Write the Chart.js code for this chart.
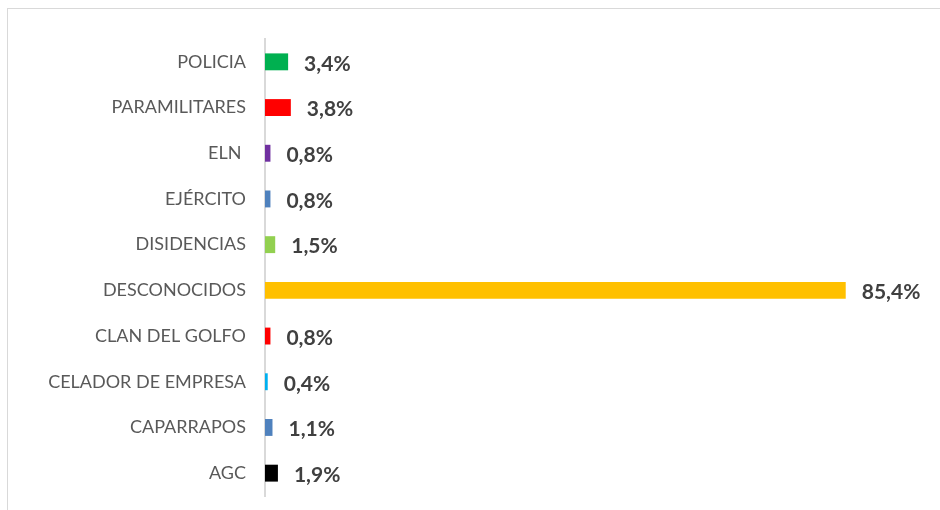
<!DOCTYPE html>
<html>
<head>
<meta charset="utf-8">
<script src="https://cdn.jsdelivr.net/npm/chart.js@4"></script>
<style>
	html, body { margin: 0; padding: 0; background: #fff; }
	#wrap { position: relative; width: 940px; height: 510px; }
	#frame { position: absolute; left: 7px; top: 8px; width: 940px; height: 510px; border-top: 1px solid #d9d9d9; border-left: 1px solid #d9d9d9; }
	canvas { position: absolute; left: 0; top: 0; }
</style>
</head>
<body>
<div id="wrap">
	<div id="frame"></div>
	<canvas id="actorsChart" width="940" height="510"></canvas>
</div>
<script>
const actors = ["POLICIA", "PARAMILITARES", "ELN ", "EJÉRCITO", "DISIDENCIAS", "DESCONOCIDOS", "CLAN DEL GOLFO", "CELADOR DE EMPRESA", "CAPARRAPOS", "AGC"];
const shares = [3.4, 3.8, 0.8, 0.8, 1.5, 85.4, 0.8, 0.4, 1.1, 1.9];
const barColors = ["#00B050", "#FF0000", "#7030A0", "#4F81BD", "#92D050", "#FFC000", "#FF0000", "#00B0F0", "#4F81BD", "#000000"];

// value labels to the right of each bar, "3,4%" style
const valueLabels = {
	id: "valueLabels",
	afterDatasetsDraw(chart) {
		const ctx = chart.ctx;
		const meta = chart.getDatasetMeta(0);
		ctx.save();
		ctx.font = "bold 21px Lato";
		ctx.fillStyle = "#404040";
		ctx.textBaseline = "middle";
		meta.data.forEach((bar, i) => {
			const txt = shares[i].toFixed(1).replace(".", ",") + "%";
			ctx.fillText(txt, bar.x + 16, bar.y + 2);
		});
		ctx.restore();
	},
};

new Chart(document.getElementById("actorsChart"), {
	type: "bar",
	data: {
		labels: actors,
		datasets: [
			{
				data: shares,
				backgroundColor: barColors,
				borderWidth: 0,
				barPercentage: 0.74,
				categoryPercentage: 0.5,
			},
		],
	},
	options: {
		indexAxis: "y",
		responsive: false,
		animation: false,
		layout: {
			padding: { top: 39, bottom: 14, left: 0, right: 63 },
		},
		scales: {
			x: {
				display: false,
				min: 0,
				max: 90,
				afterFit(scale) {
					scale.height = 0;
				},
			},
			y: {
				afterFit(scale) {
					scale.width = 265;
					scale.paddingTop = 0;
					scale.paddingBottom = 0;
				},
				grid: { display: false, drawTicks: false },
				border: { display: true, color: "#d9d9d9", width: 2 },
				ticks: {
					color: "#595959",
					padding: 19,
					font: { family: "Lato", size: 18 },
				},
			},
		},
		plugins: {
			legend: { display: false },
			tooltip: { enabled: false },
		},
	},
	plugins: [valueLabels],
});
</script>
</body>
</html>
